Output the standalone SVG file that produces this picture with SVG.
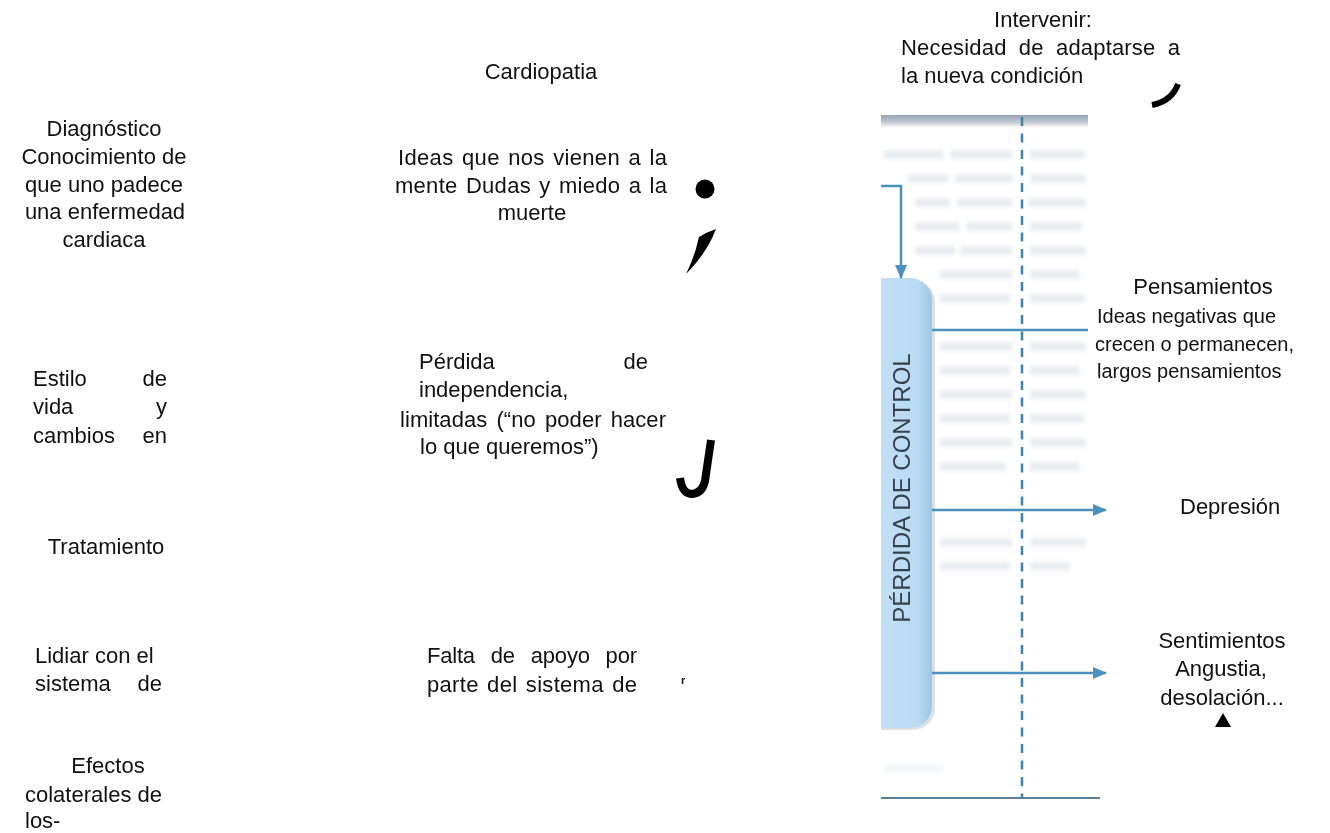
<svg xmlns="http://www.w3.org/2000/svg" width="1330" height="833" viewBox="0 0 1330 833">
<style>
  text { font-family: "Liberation Sans", Arial, sans-serif; font-size: 22px; fill: #111; }
  .c { text-anchor: middle; }
  .e { text-anchor: end; }
  .r { font-size: 20px; }
  .conn { fill: none; stroke: #4a92bd; stroke-width: 2.5; }
  .mark { fill: none; stroke: #000; stroke-linecap: butt; }
  .ghost { fill: #d3d9df; }
</style>
<defs>
  <marker id="ah" viewBox="0 0 14 12" refX="13" refY="6" markerWidth="14" markerHeight="12" markerUnits="userSpaceOnUse" orient="auto">
    <path d="M0,0 L14,6 L0,12 Z" fill="#4a92bd"/>
  </marker>
  <linearGradient id="pill" x1="0" y1="0" x2="1" y2="0">
    <stop offset="0" stop-color="#c6e2f6"/>
    <stop offset="0.8" stop-color="#b9daf2"/>
    <stop offset="1" stop-color="#9dc6e5"/>
  </linearGradient>
  <linearGradient id="topbar" x1="0" y1="0" x2="0" y2="1">
    <stop offset="0" stop-color="#96a3b2"/>
    <stop offset="0.6" stop-color="#c3cad3"/>
    <stop offset="1" stop-color="#fbf4f4"/>
  </linearGradient>
  <filter id="blur" x="-5%" y="-60%" width="110%" height="220%"><feGaussianBlur stdDeviation="2.2"/></filter>
  <clipPath id="imgclip"><rect x="881" y="114" width="230" height="690"/></clipPath>
</defs>
<rect width="1330" height="833" fill="#fff"/>

<!-- scanned figure background -->
<g id="figure" clip-path="url(#imgclip)">
  <rect x="881" y="115" width="207" height="12" fill="url(#topbar)"/>
  <g filter="url(#blur)" opacity="0.5">
    <rect class="ghost" x="884" y="150" width="60" height="9"/><rect class="ghost" x="950" y="150" width="62" height="9"/><rect class="ghost" x="1030" y="150" width="55" height="9"/>
    <rect class="ghost" x="908" y="174" width="40" height="9"/><rect class="ghost" x="955" y="174" width="58" height="9"/><rect class="ghost" x="1030" y="174" width="56" height="9"/>
    <rect class="ghost" x="915" y="198" width="35" height="9"/><rect class="ghost" x="957" y="198" width="55" height="9"/><rect class="ghost" x="1028" y="198" width="58" height="9"/>
    <rect class="ghost" x="915" y="222" width="45" height="9"/><rect class="ghost" x="966" y="222" width="46" height="9"/><rect class="ghost" x="1030" y="222" width="52" height="9"/>
    <rect class="ghost" x="915" y="246" width="40" height="9"/><rect class="ghost" x="960" y="246" width="52" height="9"/><rect class="ghost" x="1030" y="246" width="56" height="9"/>
    <rect class="ghost" x="940" y="270" width="72" height="9"/><rect class="ghost" x="1030" y="270" width="50" height="9"/>
    <rect class="ghost" x="940" y="294" width="70" height="9"/><rect class="ghost" x="1030" y="294" width="55" height="9"/>
    <rect class="ghost" x="940" y="342" width="72" height="9"/><rect class="ghost" x="1030" y="342" width="56" height="9"/>
    <rect class="ghost" x="940" y="366" width="70" height="9"/><rect class="ghost" x="1030" y="366" width="50" height="9"/>
    <rect class="ghost" x="940" y="390" width="72" height="9"/><rect class="ghost" x="1030" y="390" width="56" height="9"/>
    <rect class="ghost" x="940" y="414" width="70" height="9"/><rect class="ghost" x="1030" y="414" width="54" height="9"/>
    <rect class="ghost" x="940" y="438" width="72" height="9"/><rect class="ghost" x="1030" y="438" width="56" height="9"/>
    <rect class="ghost" x="940" y="462" width="66" height="9"/><rect class="ghost" x="1030" y="462" width="50" height="9"/>
    <rect class="ghost" x="940" y="538" width="72" height="9"/><rect class="ghost" x="1030" y="538" width="56" height="9"/>
    <rect class="ghost" x="940" y="562" width="70" height="9"/><rect class="ghost" x="1030" y="562" width="40" height="9"/>
    <rect class="ghost" x="884" y="681" width="40" height="9" opacity="0.6"/>
    <rect class="ghost" x="884" y="764" width="60" height="9" opacity="0.5"/>
  </g>
</g>

<g id="pill-node" clip-path="url(#imgclip)">
  <rect x="864" y="280" width="71" height="450" rx="22" fill="#c5cad0" opacity="0.6"/>
  <rect x="860" y="278" width="72" height="450" rx="22" fill="url(#pill)"/>
  <text transform="translate(910,488) rotate(-90)" class="c" style="font-size:24px; fill:#34414e;">PÉRDIDA DE CONTROL</text>
</g>

<g id="connectors">
  <line x1="1022" y1="117" x2="1022" y2="798" stroke="#3d84a8" stroke-width="2.5" stroke-dasharray="9 7.5"/>
  <line x1="881" y1="798" x2="1100" y2="798" stroke="#5b7f98" stroke-width="2"/>
  <path class="conn" d="M881,186 H901 V278" marker-end="url(#ah)"/>
  <line class="conn" x1="932" y1="330" x2="1088" y2="330"/>
  <line class="conn" x1="932" y1="510" x2="1106" y2="510" marker-end="url(#ah)"/>
  <line class="conn" x1="932" y1="673" x2="1106" y2="673" marker-end="url(#ah)"/>
</g>

<!-- text nodes -->
<g id="n-cardiopatia"><text x="541" y="79" class="c">Cardiopatia</text></g>

<g id="n-intervenir">
  <text x="1043" y="27" class="c">Intervenir:</text>
  <text x="901" y="55" word-spacing="6" textLength="279" lengthAdjust="spacing">Necesidad de adaptarse a</text>
  <text x="901" y="83">la nueva condición</text>
</g>

<g id="n-diagnostico">
  <text x="104" y="136" class="c">Diagnóstico</text>
  <text x="104" y="164" class="c">Conocimiento de</text>
  <text x="104" y="192" class="c">que uno padece</text>
  <text x="105" y="219" class="c">una enfermedad</text>
  <text x="104" y="247" class="c">cardiaca</text>
</g>

<g id="n-ideas">
  <text x="398" y="165" textLength="269" lengthAdjust="spacing" word-spacing="2">Ideas que nos vienen a la</text>
  <text x="395" y="193" textLength="272" lengthAdjust="spacing" word-spacing="2">mente Dudas y miedo a la</text>
  <text x="532" y="220" class="c">muerte</text>
</g>

<g id="n-pensamientos">
  <text x="1203" y="294" class="c">Pensamientos</text>
  <text x="1097" y="323" class="r">Ideas negativas que</text>
  <text x="1095" y="351" class="r">crecen o permanecen,</text>
  <text x="1097" y="378" class="r">largos pensamientos</text>
</g>

<g id="n-perdida">
  <text x="419" y="369">Pérdida</text>
  <text x="648" y="369" class="e">de</text>
  <text x="419" y="397">independencia,</text>
  <text x="400" y="427" textLength="266" lengthAdjust="spacing" word-spacing="3">limitadas (“no poder hacer</text>
  <text x="420" y="454">lo que queremos”)</text>
</g>

<g id="n-estilo">
  <text x="33" y="386">Estilo</text><text x="167" y="386" class="e">de</text>
  <text x="33" y="414">vida</text><text x="167" y="414" class="e">y</text>
  <text x="33" y="443">cambios</text><text x="167" y="443" class="e">en</text>
</g>

<g id="n-depresion"><text x="1180" y="514">Depresión</text></g>

<g id="n-tratamiento"><text x="106" y="554" class="c">Tratamiento</text></g>

<g id="n-sentimientos">
  <text x="1222" y="648" class="c">Sentimientos</text>
  <text x="1221" y="676" class="c">Angustia,</text>
  <text x="1222" y="705" class="c">desolación...</text>
  <polygon points="1223,713 1231,727 1215,727" fill="#000"/>
</g>

<g id="n-lidiar">
  <text x="35" y="663">Lidiar con el</text>
  <text x="35" y="691">sistema</text><text x="162" y="691" class="e">de</text>
</g>

<g id="n-falta">
  <text x="427" y="663" word-spacing="10" textLength="210" lengthAdjust="spacing">Falta de apoyo por</text>
  <text x="427" y="692" word-spacing="2" textLength="210" lengthAdjust="spacing">parte del sistema de</text>
</g>

<g id="n-efectos">
  <text x="108" y="773" class="c">Efectos</text>
  <text x="25" y="802">colaterales de</text>
  <text x="25" y="828">los-</text>
</g>

<!-- stray marks -->
<g id="marks">
  <circle cx="705" cy="189" r="9.5" fill="#000"/>
  <path d="M699,237 Q707,232 716,229 Q707,253 686,274 Q695,256 699,237 Z" fill="#000"/>
  <path class="mark" d="M711,440 L705,481 Q702,494 691,494 Q682,493 680,478" stroke-width="8"/>
  <path class="mark" d="M1178,84 Q1172,101 1152,105" stroke-width="6"/>
  <text x="681" y="684" style="font-size:11px; font-weight:bold;">r</text>
</g>
</svg>
